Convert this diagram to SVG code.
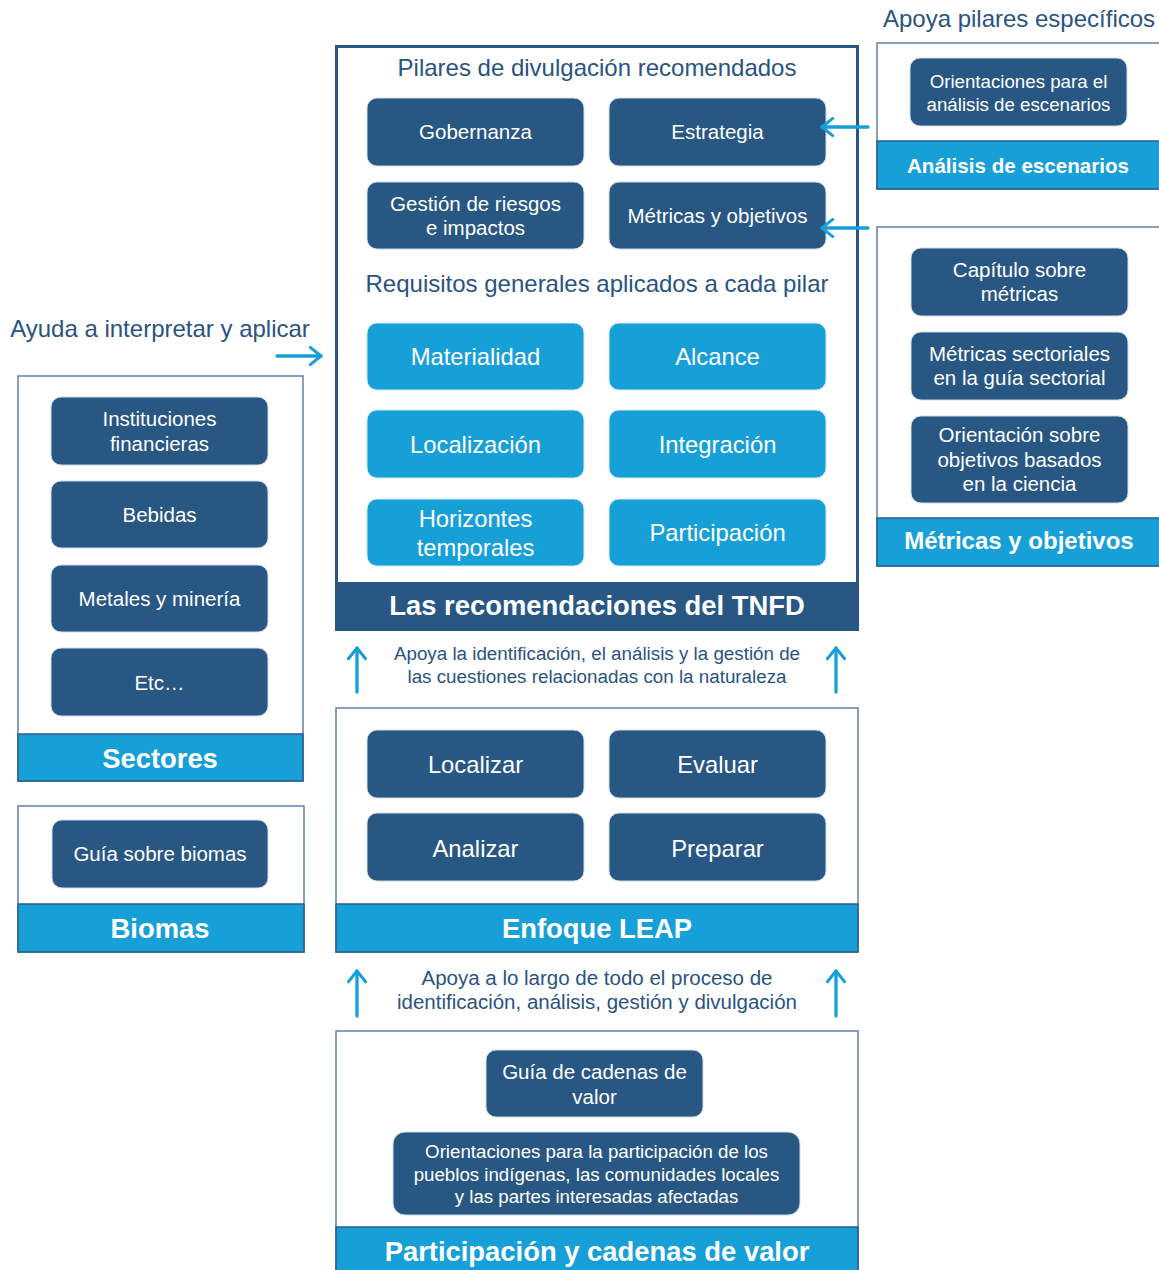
<svg xmlns="http://www.w3.org/2000/svg" width="1159" height="1270" viewBox="0 0 1159 1270">
<defs>
<style>
text{font-family:"Liberation Sans",Arial,sans-serif;text-anchor:middle}
.frame{fill:#fff;stroke:#5f82a8;stroke-width:1.5}
.band{fill:#179fd8;stroke:#2b5c8c;stroke-width:1.5}
.dk{fill:#285784;stroke:#cfdbe8;stroke-width:1}
.lt{fill:#179fd8;stroke:#cfe9f6;stroke-width:1}
.pt{fill:#fff;font-size:20.5px}
.pl{fill:#fff;font-size:23.8px}
.ps{fill:#fff;font-size:18.7px}
.bt{fill:#fff;font-weight:bold;font-size:27.4px}
.lbl{fill:#2a5380;font-size:24px}
.sm{fill:#2a5380;font-size:18.8px}
.arr{stroke:#179fd8;stroke-width:3.3;fill:none;stroke-linecap:round}
</style>
<marker id="ah" viewBox="0 0 12 12" refX="10.5" refY="6" markerWidth="6" markerHeight="6" orient="auto" markerUnits="strokeWidth">
<path d="M4,0.8 L10.5,6 L4,11.2" fill="none" stroke="#179fd8" stroke-width="1.8" stroke-linecap="round" stroke-linejoin="round"/>
</marker>
</defs>
<rect width="1159" height="1270" fill="#fff"/>

<g id="tnfd">
<rect x="336.5" y="46.5" width="521" height="583" fill="#fff" stroke="#285784" stroke-width="3"/>
<rect x="336" y="582" width="522" height="48" fill="#285784"/>
<text class="bt" x="597" y="615">Las recomendaciones del TNFD</text>
<text class="lbl" x="597" y="76">Pilares de divulgación recomendados</text>
<text class="lbl" x="597" y="292">Requisitos generales aplicados a cada pilar</text>
<g id="gobernanza"><rect class="dk" x="367" y="98" width="217" height="68" rx="10"/><text class="pt" x="475.5" y="139">Gobernanza</text></g>
<g id="estrategia"><rect class="dk" x="609" y="98" width="217" height="68" rx="10"/><text class="pt" x="717.5" y="139">Estrategia</text></g>
<g id="gestion"><rect class="dk" x="367" y="182" width="217" height="67" rx="10"/><text class="pt" x="475.5" y="211">Gestión de riesgos</text><text class="pt" x="475.5" y="235">e impactos</text></g>
<g id="metricas-pilar"><rect class="dk" x="609" y="182" width="217" height="67" rx="10"/><text class="pt" x="717.5" y="223">Métricas y objetivos</text></g>
<g id="materialidad"><rect class="lt" x="367" y="323" width="217" height="67" rx="10"/><text class="pl" x="475.5" y="365">Materialidad</text></g>
<g id="alcance"><rect class="lt" x="609" y="323" width="217" height="67" rx="10"/><text class="pl" x="717.5" y="365">Alcance</text></g>
<g id="localizacion"><rect class="lt" x="367" y="410" width="217" height="68" rx="10"/><text class="pl" x="475.5" y="453">Localización</text></g>
<g id="integracion"><rect class="lt" x="609" y="410" width="217" height="68" rx="10"/><text class="pl" x="717.5" y="453">Integración</text></g>
<g id="horizontes"><rect class="lt" x="367" y="499" width="217" height="67" rx="10"/><text class="pl" x="475.5" y="527">Horizontes</text><text class="pl" x="475.5" y="556">temporales</text></g>
<g id="participacion"><rect class="lt" x="609" y="499" width="217" height="67" rx="10"/><text class="pl" x="717.5" y="541">Participación</text></g>
</g>

<g id="sectores">
<text class="lbl" x="160" y="337">Ayuda a interpretar y aplicar</text>
<rect class="frame" x="18" y="376" width="285" height="405"/>
<rect class="band" x="18" y="734" width="285" height="47"/>
<text class="bt" x="160" y="768">Sectores</text>
<g id="instituciones"><rect class="dk" x="51" y="397" width="217" height="68" rx="10"/><text class="pt" x="159.5" y="426">Instituciones</text><text class="pt" x="159.5" y="451">financieras</text></g>
<g id="bebidas"><rect class="dk" x="51" y="481" width="217" height="67" rx="10"/><text class="pt" x="159.5" y="522">Bebidas</text></g>
<g id="metales"><rect class="dk" x="51" y="565" width="217" height="67" rx="10"/><text class="pt" x="159.5" y="606">Metales y minería</text></g>
<g id="etc"><rect class="dk" x="51" y="648" width="217" height="68" rx="10"/><text class="pt" x="159.5" y="690">Etc…</text></g>
</g>

<g id="biomas">
<rect class="frame" x="18" y="806" width="286" height="146"/>
<rect class="band" x="18" y="904" width="286" height="48"/>
<text class="bt" x="160" y="938">Biomas</text>
<g id="guia-biomas"><rect class="dk" x="52" y="820" width="216" height="68" rx="10"/><text class="pt" x="160" y="861">Guía sobre biomas</text></g>
</g>

<g id="escenarios">
<text class="lbl" x="1019" y="27">Apoya pilares específicos</text>
<rect class="frame" x="877" y="43" width="284" height="146"/>
<rect class="band" x="877" y="141" width="284" height="48"/>
<text class="bt" x="1018" y="173" style="font-size:20.6px">Análisis de escenarios</text>
<g id="orient-escenarios"><rect class="dk" x="910" y="58" width="217" height="68" rx="10"/><text class="ps" x="1018.5" y="88">Orientaciones para el</text><text class="ps" x="1018.5" y="111">análisis de escenarios</text></g>
</g>

<g id="metricas">
<rect class="frame" x="877" y="227" width="284" height="339"/>
<rect class="band" x="877" y="518" width="284" height="48"/>
<text class="bt" x="1019" y="549" style="font-size:24px">Métricas y objetivos</text>
<g id="capitulo"><rect class="dk" x="911" y="248" width="217" height="68" rx="10"/><text class="pt" x="1019.5" y="277">Capítulo sobre</text><text class="pt" x="1019.5" y="301">métricas</text></g>
<g id="sectoriales"><rect class="dk" x="911" y="332" width="217" height="68" rx="10"/><text class="pt" x="1019.5" y="361">Métricas sectoriales</text><text class="pt" x="1019.5" y="385">en la guía sectorial</text></g>
<g id="ciencia"><rect class="dk" x="911" y="416" width="217" height="87" rx="10"/><text class="pt" x="1019.5" y="442">Orientación sobre</text><text class="pt" x="1019.5" y="467">objetivos basados</text><text class="pt" x="1019.5" y="491">en la ciencia</text></g>
</g>

<g id="leap">
<rect class="frame" x="336" y="708" width="522" height="244"/>
<rect class="band" x="336" y="904" width="522" height="48"/>
<text class="bt" x="597" y="938">Enfoque LEAP</text>
<g id="localizar"><rect class="dk" x="367" y="730" width="217" height="68" rx="10"/><text class="pl" x="475.5" y="773">Localizar</text></g>
<g id="evaluar"><rect class="dk" x="609" y="730" width="217" height="68" rx="10"/><text class="pl" x="717.5" y="773">Evaluar</text></g>
<g id="analizar"><rect class="dk" x="367" y="813" width="217" height="68" rx="10"/><text class="pl" x="475.5" y="857">Analizar</text></g>
<g id="preparar"><rect class="dk" x="609" y="813" width="217" height="68" rx="10"/><text class="pl" x="717.5" y="857">Preparar</text></g>
</g>

<g id="cadenas">
<rect class="frame" x="336" y="1031" width="522" height="245"/>
<rect class="band" x="336" y="1227" width="522" height="48"/>
<text class="bt" x="597" y="1261">Participación y cadenas de valor</text>
<g id="guia-cadenas"><rect class="dk" x="486" y="1050" width="217" height="67" rx="10"/><text class="pt" x="594.5" y="1079">Guía de cadenas de</text><text class="pt" x="594.5" y="1104">valor</text></g>
<g id="pueblos"><rect class="dk" x="393" y="1132" width="407" height="83" rx="12"/><text class="ps" x="596.5" y="1158">Orientaciones para la participación de los</text><text class="ps" x="596.5" y="1181">pueblos indígenas, las comunidades locales</text><text class="ps" x="596.5" y="1203">y las partes interesadas afectadas</text></g>
</g>

<g id="labels">
<text class="sm" x="597" y="660">Apoya la identificación, el análisis y la gestión de</text>
<text class="sm" x="597" y="683">las cuestiones relacionadas con la naturaleza</text>
<text class="sm" x="597" y="985" style="font-size:20.5px">Apoya a lo largo de todo el proceso de</text>
<text class="sm" x="597" y="1009" style="font-size:20.5px">identificación, análisis, gestión y divulgación</text>
</g>

<g id="connectors">
<line class="arr" x1="277" y1="356" x2="321" y2="356" marker-end="url(#ah)"/>
<line class="arr" x1="868" y1="127" x2="822" y2="127" marker-end="url(#ah)"/>
<line class="arr" x1="868" y1="228" x2="822" y2="228" marker-end="url(#ah)"/>
<line class="arr" x1="357" y1="692" x2="357" y2="648" marker-end="url(#ah)"/>
<line class="arr" x1="836" y1="692" x2="836" y2="648" marker-end="url(#ah)"/>
<line class="arr" x1="357" y1="1016" x2="357" y2="971" marker-end="url(#ah)"/>
<line class="arr" x1="836" y1="1016" x2="836" y2="971" marker-end="url(#ah)"/>
</g>
</svg>
